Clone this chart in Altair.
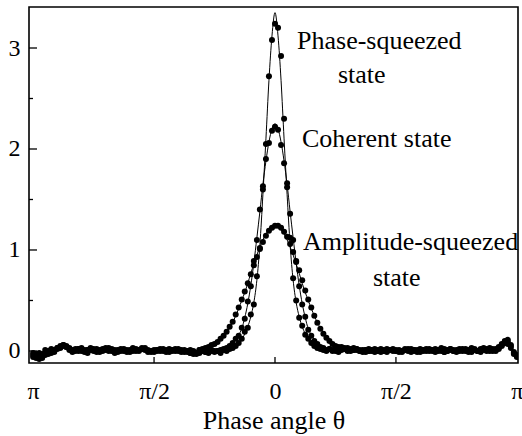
import altair as alt
import numpy as np
import pandas as pd

# Phase grid: 161 samples across -pi..pi
theta = np.linspace(-np.pi, np.pi, 161)

# Measured phase distributions (dots), one value per grid sample
phase_sq_pts = [
    -0.04, -0.07, -0.02, -0.05, 0.01, -0.03, 0.02, -0.01, 0.03, 0.05,
    0.06, 0.04, 0.01, -0.01, 0.02, 0.00, 0.03, 0.01, -0.02, 0.01,
    0.02, 0.00, -0.01, 0.02, 0.03, 0.01, 0.00, -0.02, 0.01, 0.02,
    0.00, 0.01, -0.01, 0.00, 0.02, 0.01, 0.03, 0.02, 0.00, -0.01,
    0.01, 0.00, 0.02, 0.01, -0.01, 0.00, 0.01, 0.02, 0.00, 0.01,
    -0.01, 0.00, 0.01, 0.00, -0.02, 0.01, 0.00, -0.01, -0.02, 0.00,
    -0.01, 0.00, -0.02, 0.01, 0.00, 0.02, 0.03, 0.05, 0.08, 0.12,
    0.19, 0.23, 0.36, 0.46, 0.74, 1.02, 1.60, 2.05, 2.72, 3.08,
    3.24,
    3.20, 2.92, 2.30, 1.62, 1.12, 0.72, 0.50, 0.33, 0.25, 0.16,
    0.12, 0.08, 0.05, 0.03, 0.02, 0.01, 0.00, 0.02, 0.01, 0.00,
    -0.01, 0.01, 0.02, 0.00, 0.01, 0.03, 0.01, 0.00, -0.01, 0.01,
    0.02, 0.00, 0.01, 0.01, -0.01, 0.00, 0.02, 0.01, 0.00, 0.01,
    0.00, -0.01, 0.01, 0.02, 0.00, 0.01, -0.01, 0.00, 0.01, 0.02,
    0.01, 0.00, -0.01, 0.01, 0.03, 0.02, 0.00, 0.01, 0.00, -0.01,
    0.01, 0.02, 0.00, 0.01, 0.03, 0.01, 0.00, -0.01, 0.02, 0.01,
    0.00, 0.02, 0.01, 0.03, 0.05, 0.08, 0.09, 0.05, -0.02, -0.05,
]

coherent_pts = [
    -0.02, -0.05, -0.08, -0.03, -0.04, 0.00, -0.02, 0.01, 0.02, 0.03,
    0.06, 0.05, 0.02, 0.00, 0.01, 0.02, 0.00, -0.01, 0.01, 0.03,
    0.01, -0.01, 0.00, 0.01, 0.02, 0.00, 0.01, 0.00, -0.01, 0.00,
    0.02, 0.00, 0.01, 0.03, 0.01, 0.00, 0.02, 0.01, -0.01, 0.00,
    0.00, 0.01, 0.00, 0.02, 0.00, -0.01, 0.01, 0.00, 0.02, 0.00,
    0.01, 0.00, -0.02, -0.01, -0.03, -0.02, 0.00, -0.01, 0.00, 0.01,
    0.00, 0.00, 0.01, 0.02, 0.03, 0.05, 0.08, 0.12, 0.15, 0.23,
    0.32, 0.49, 0.64, 0.89, 1.10, 1.40, 1.63, 1.90, 2.06, 2.18,
    2.22,
    2.19, 2.04, 1.86, 1.66, 1.36, 1.10, 0.88, 0.64, 0.46, 0.34,
    0.21, 0.15, 0.10, 0.07, 0.04, 0.03, 0.01, 0.02, 0.00, 0.01,
    0.02, 0.04, 0.03, 0.01, 0.00, 0.01, 0.02, 0.00, 0.01, -0.01,
    0.00, 0.01, 0.02, 0.00, 0.01, 0.00, -0.01, 0.01, 0.02, 0.00,
    0.01, 0.00, 0.02, 0.01, -0.01, 0.00, 0.01, 0.02, 0.00, 0.01,
    0.00, 0.01, 0.02, 0.00, 0.01, -0.01, 0.00, 0.02, 0.01, 0.00,
    0.02, 0.00, 0.01, -0.01, 0.01, 0.02, 0.00, 0.01, 0.03, 0.00,
    0.01, 0.00, 0.02, 0.04, 0.07, 0.10, 0.07, 0.03, -0.03, -0.06,
]

amp_sq_pts = [
    -0.06, -0.03, -0.04, -0.07, -0.02, -0.01, 0.01, 0.00, 0.03, 0.04,
    0.05, 0.04, 0.03, 0.01, 0.00, 0.02, 0.01, 0.00, 0.01, 0.02,
    0.00, 0.02, 0.01, 0.00, 0.01, 0.03, 0.02, 0.01, 0.00, 0.01,
    0.01, -0.01, 0.00, 0.02, 0.00, 0.01, 0.02, 0.03, 0.01, 0.00,
    -0.01, 0.01, 0.01, 0.00, 0.01, 0.02, 0.00, 0.01, 0.01, -0.01,
    0.00, -0.01, -0.02, -0.03, -0.02, 0.01, 0.02, 0.03, 0.04, 0.06,
    0.07, 0.09, 0.12, 0.15, 0.19, 0.24, 0.29, 0.36, 0.43, 0.51,
    0.59, 0.67, 0.76, 0.85, 0.93, 1.01, 1.08, 1.14, 1.19, 1.22,
    1.24,
    1.24, 1.22, 1.18, 1.13, 1.06, 0.98, 0.89, 0.80, 0.70, 0.60,
    0.51, 0.43, 0.35, 0.28, 0.22, 0.17, 0.13, 0.10, 0.07, 0.05,
    0.04, 0.03, 0.02, 0.03, 0.02, 0.01, 0.02, 0.01, 0.00, 0.01,
    0.00, 0.01, -0.01, 0.00, 0.02, 0.01, 0.00, 0.01, 0.01, 0.00,
    -0.01, 0.00, 0.01, 0.00, 0.02, 0.01, 0.00, -0.01, 0.01, 0.00,
    0.02, 0.01, 0.00, 0.01, 0.00, -0.01, 0.01, 0.02, 0.00, 0.01,
    0.00, 0.01, 0.02, 0.00, -0.01, 0.01, 0.00, 0.02, 0.01, 0.02,
    0.03, 0.01, 0.00, 0.02, 0.06, 0.09, 0.11, 0.06, -0.01, -0.04,
]

# Fitted curves on the central samples 53..107 of the grid
FIT_START, FIT_STOP = 53, 108

phase_sq_fit = [
    0, 0, 0, 0, 0, 0, 0, 0, 0, 0, 0,
    0.00, 0.01, 0.02, 0.04, 0.07, 0.11, 0.17, 0.24, 0.34, 0.48,
    0.70, 1.05, 1.55, 2.10, 2.68, 3.12,
    3.35,
    3.12, 2.68, 2.10, 1.55, 1.05, 0.70,
    0.48, 0.34, 0.24, 0.17, 0.11, 0.07, 0.04, 0.02, 0.01, 0.00,
    0, 0, 0, 0, 0, 0, 0, 0, 0, 0, 0,
]

coherent_fit = [
    0, 0, 0, 0, 0, 0, 0, 0,
    0.005, 0.01, 0.018, 0.03, 0.05, 0.075, 0.11, 0.16, 0.22, 0.33,
    0.47, 0.65, 0.87, 1.12, 1.38, 1.65, 1.88, 2.07, 2.20,
    2.25,
    2.20, 2.07, 1.88, 1.65, 1.38, 1.12, 0.87, 0.65, 0.47,
    0.33, 0.22, 0.16, 0.11, 0.075, 0.05, 0.03, 0.018, 0.01, 0.005,
    0, 0, 0, 0, 0, 0, 0, 0,
]

amp_sq_fit = [
    0.0, 0.005, 0.01, 0.015, 0.02, 0.03, 0.045, 0.06, 0.08,
    0.11, 0.14, 0.18, 0.23, 0.28, 0.35, 0.42, 0.50, 0.58,
    0.67, 0.77, 0.86, 0.95, 1.03, 1.10, 1.16, 1.20, 1.23,
    1.24,
    1.23, 1.20, 1.16, 1.10, 1.03, 0.95, 0.86, 0.77, 0.67,
    0.58, 0.50, 0.42, 0.35, 0.28, 0.23, 0.18, 0.14, 0.11,
    0.08, 0.06, 0.045, 0.03, 0.02, 0.015, 0.01, 0.005, 0.0,
]

state_names = ["Phase-squeezed", "Coherent", "Amplitude-squeezed"]

x_label_values = [-np.pi, -np.pi / 2, 0.0, np.pi / 2, np.pi]
x_inner_ticks = [-np.pi / 2, 0.0, np.pi / 2]
y_label_values = [0, 1, 2, 3]
y_minor_ticks = [0.5, 1.5, 2.5]

FONT = "Liberation Serif"

points = pd.concat(
    [
        pd.DataFrame({"theta": theta, "value": vals, "state": name})
        for name, vals in zip(state_names, [phase_sq_pts, coherent_pts, amp_sq_pts])
    ],
    ignore_index=True,
)
fits = pd.concat(
    [
        pd.DataFrame({"theta": theta[FIT_START:FIT_STOP], "value": vals, "state": name})
        for name, vals in zip(state_names, [phase_sq_fit, coherent_fit, amp_sq_fit])
    ],
    ignore_index=True,
)

x_enc = alt.X(
    "theta:Q",
    scale=alt.Scale(domain=[-3.195, 3.156], nice=False, zero=False),
    axis=alt.Axis(
        values=x_label_values,
        labelExpr="abs(datum.value) < 0.01 ? '0' : (abs(datum.value) > 3 ? 'π' : 'π/2')",
        ticks=False,
        tickSize=0,
        domain=False,
        grid=False,
        labelFlush=False,
        labelFont=FONT,
        labelFontSize=24,
        labelColor="black",
        labelPadding=16,
        title="Phase angle θ",
        titleFont=FONT,
        titleFontSize=26,
        titleFontWeight="normal",
        titleColor="black",
        titlePadding=4,
    ),
)
y_enc = alt.Y(
    "value:Q",
    scale=alt.Scale(domain=[-0.119, 3.406], nice=False, zero=False),
    axis=alt.Axis(
        values=y_label_values,
        format="d",
        ticks=False,
        tickSize=0,
        domain=False,
        grid=False,
        labelFont=FONT,
        labelFontSize=24,
        labelColor="black",
        labelPadding=9,
        title=None,
    ),
)

dots = alt.Chart(points).mark_circle(size=36, color="black", opacity=1, clip=True).encode(
    x=x_enc, y=y_enc
)
curves = alt.Chart(fits).mark_line(
    color="black", strokeWidth=1, interpolate="monotone", clip=True
).encode(x=x_enc, y=y_enc, detail="state:N")

# inward-pointing axis ticks
x_ticks = alt.Chart(pd.DataFrame({"theta": x_inner_ticks})).mark_rule(
    color="black", strokeWidth=1.3
).encode(x=x_enc, y=alt.value(356), y2=alt.value(350))
y_major = alt.Chart(pd.DataFrame({"value": y_label_values})).mark_rule(
    color="black", strokeWidth=1.3
).encode(y=y_enc, x=alt.value(0), x2=alt.value(8))
y_minor = alt.Chart(pd.DataFrame({"value": y_minor_ticks})).mark_rule(
    color="black", strokeWidth=1.3
).encode(y=y_enc, x=alt.value(0), x2=alt.value(4))


def note(text, x, y):
    return alt.Chart().mark_text(
        text=text, align="left", baseline="alphabetic", font=FONT, fontSize=26, color="black"
    ).encode(x=alt.datum(x), y=alt.datum(y))


notes = [
    note("Phase-squeezed", 0.286, 2.99),
    note("state", 0.818, 2.653),
    note("Coherent state", 0.351, 2.02),
    note("Amplitude-squeezed", 0.3635, 1.0),
    note("state", 1.272, 0.644),
]

chart = (
    alt.layer(dots, curves, x_ticks, y_major, y_minor, *notes)
    .properties(
        width=489,
        height=356,
        autosize=alt.AutoSizeParams(type="none"),
        padding={"left": 29, "top": 7, "right": 4, "bottom": 73},
        background="white",
    )
    .configure_view(stroke="black", strokeWidth=1.6)
)

chart.save("out.html", embed_options={"renderer": "svg", "actions": False})
